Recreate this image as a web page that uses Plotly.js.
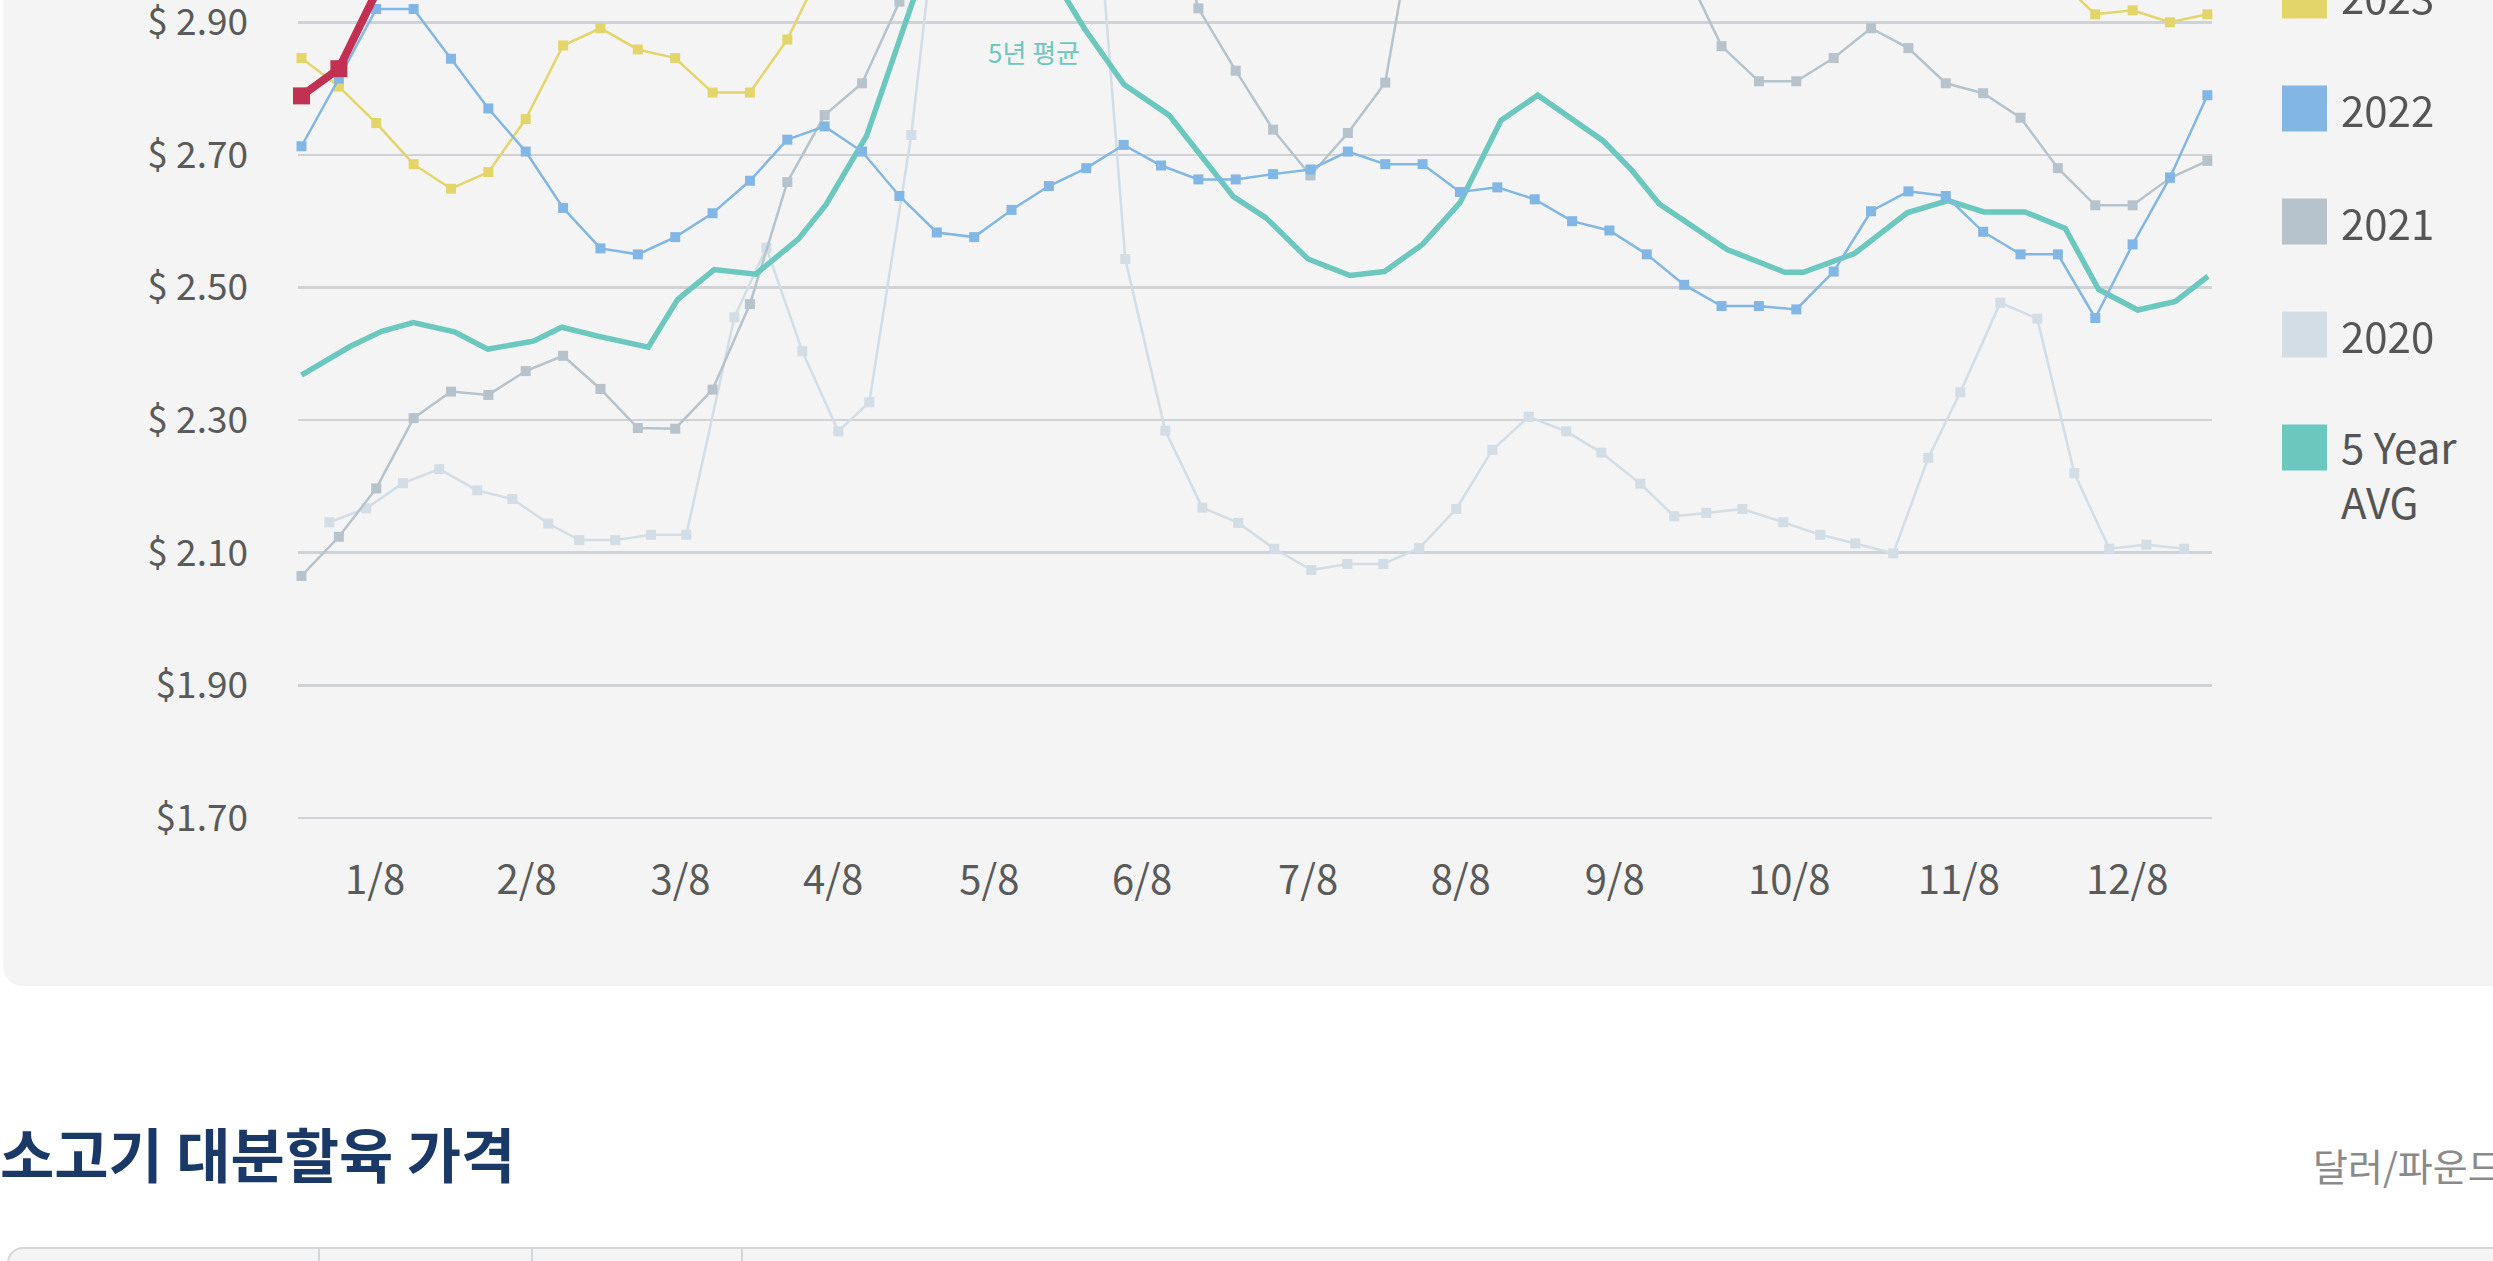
<!DOCTYPE html>
<html>
<head>
<meta charset="utf-8">
<script src="https://cdn.plot.ly/plotly-3.0.1.min.js"></script>
<style>
  html, body { margin:0; padding:0; background:#ffffff; width:2493px; height:1261px; overflow:hidden;
    font-family:"Noto Sans CJK KR", "Noto Sans", sans-serif; }
  #panel { position:absolute; left:3px; top:-100px; width:3000px; height:1086px; background:#f3f4f3; border-radius:20px; }
  #chart { position:absolute; left:0; top:0; width:2493px; height:1000px; }
  #title { position:absolute; left:0; top:1123px; font-size:59px; line-height:59px; font-weight:700; color:#1b3966;
    letter-spacing:0px; white-space:nowrap; }
  #unit { position:absolute; left:2313px; top:1146px; font-size:38px; line-height:38px; color:#8a8a8a; white-space:nowrap; }
  #table { position:absolute; left:7px; top:1247px; width:3000px; height:200px; border:2px solid #d4d7da; border-radius:16px; background:#f3f4f3; }
  .col { position:absolute; top:0; width:2px; height:200px; background:#d4d7da; }
</style>
</head>
<body>
<div id="panel"></div>
<div id="chart"></div>
<div id="title">소고기 대분할육 가격</div>
<div id="unit">달러/파운드</div>
<div id="table"><div class="col" style="left:309px"></div><div class="col" style="left:522px"></div><div class="col" style="left:732px"></div></div>
<script>
// ---- DATA ----
const weekNo = Array.from({length: 52}, (_, i) => i + 1);

const y2024 = [2.789, 2.830, 2.945];

const y2023 = [2.846, 2.803, 2.748, 2.686, 2.649, 2.674, 2.754, 2.865, 2.891, 2.859, 2.846, 2.794, 2.794, 2.874,
  2.99, 3.04, 3.09, 3.13, 3.18, 3.22, 3.24, 3.21, 3.17, 3.14, 3.12, 3.10, 3.11, 3.13, 3.15, 3.16, 3.14, 3.12,
  3.09, 3.07, 3.06, 3.08, 3.10, 3.12, 3.11, 3.09, 3.07, 3.05, 3.04, 3.03, 3.02, 3.01, 2.99,
  2.965, 2.912, 2.918, 2.900, 2.912];

const y2022 = [2.713, 2.815, 2.920, 2.920, 2.845, 2.770, 2.705, 2.620, 2.559, 2.550, 2.576, 2.612, 2.661, 2.723,
  2.743, 2.705, 2.638, 2.583, 2.576, 2.617, 2.653, 2.680, 2.715, 2.684, 2.663, 2.663, 2.671, 2.678, 2.705, 2.686,
  2.686, 2.644, 2.651, 2.633, 2.600, 2.586, 2.550, 2.504, 2.472, 2.472, 2.467, 2.524, 2.615, 2.645, 2.638, 2.584,
  2.550, 2.550, 2.454, 2.565, 2.666, 2.790];

const y2021 = [2.065, 2.124, 2.197, 2.303, 2.343, 2.338, 2.374, 2.397, 2.347, 2.288, 2.287, 2.346, 2.475, 2.659,
  2.760, 2.808, 2.931, 3.05, 3.16, 3.24, 3.28, 3.30, 3.24, 3.13, 2.921, 2.827, 2.738, 2.669, 2.733, 2.809, 3.13,
  3.19, 3.24, 3.27, 3.22, 3.14, 3.06, 2.982, 2.864, 2.811, 2.811, 2.846, 2.891, 2.861, 2.808, 2.793, 2.756, 2.680,
  2.624, 2.624, 2.665, 2.691];

const x2020 = [1.744, 2.734, 3.716, 4.687, 5.704, 6.641, 7.604, 8.434, 9.397, 10.352, 11.297, 12.582, 13.438, 14.401,
  15.364, 16.194, 17.318, 18.27, 19.24, 20.20, 21.16, 22.10, 23.044, 24.115, 25.105, 26.068, 27.031, 28.022, 28.985,
  29.948, 30.911, 31.902, 32.865, 33.839, 34.845, 35.782, 36.826, 37.735, 38.591, 39.555, 40.652, 41.642, 42.579,
  43.596, 44.532, 45.389, 46.459, 47.449, 48.439, 49.376, 50.366, 51.382];
const y2020 = [2.146, 2.167, 2.205, 2.226, 2.194, 2.181, 2.144, 2.119, 2.119, 2.127, 2.127, 2.455, 2.560, 2.404,
  2.283, 2.327, 2.730, 3.202, 3.45, 3.62, 3.48, 3.222, 2.543, 2.284, 2.168, 2.145, 2.106, 2.074, 2.083, 2.083,
  2.107, 2.166, 2.255, 2.305, 2.283, 2.251, 2.204, 2.155, 2.160, 2.166, 2.146, 2.127, 2.114, 2.099, 2.243, 2.342,
  2.477, 2.453, 2.220, 2.106, 2.112, 2.106];

const xAvg = [1.0, 2.298, 3.146, 3.992, 5.089, 5.983, 7.203, 7.963, 8.988, 10.280, 11.067, 12.046, 13.154, 14.294,
  15.035, 16.124, 18.086, 19.02, 19.95, 21.945, 23.010, 24.214, 25.937, 26.810, 27.934, 29.058, 29.978, 30.997,
  32.001, 33.098, 34.080, 35.835, 36.595, 37.334, 39.159, 40.690, 41.187, 42.552, 43.976, 45.059, 46.023, 47.120,
  48.198, 49.090, 50.136, 51.145, 52.017];
const yAvg = [2.368, 2.411, 2.434, 2.447, 2.433, 2.407, 2.419, 2.440, 2.426, 2.410, 2.482, 2.527, 2.520, 2.573,
  2.625, 2.729, 3.051, 3.11, 3.076, 2.891, 2.806, 2.760, 2.637, 2.605, 2.543, 2.518, 2.524, 2.565, 2.628, 2.752,
  2.790, 2.721, 2.677, 2.626, 2.557, 2.523, 2.523, 2.551, 2.613, 2.631, 2.614, 2.614, 2.589, 2.497, 2.466, 2.479,
  2.517];

const xTickLabels = ['1/8', '2/8', '3/8', '4/8', '5/8', '6/8', '7/8', '8/8', '9/8', '10/8', '11/8', '12/8'];
const xTickWeeks = [2.970, 7.024, 11.142, 15.225, 19.408, 23.494, 27.936, 32.022, 36.140, 40.810, 45.349, 49.855];
const yTickValues = [1.70, 1.90, 2.10, 2.30, 2.50, 2.70, 2.90];
const yTickLabels = ['$1.70', '$1.90', '$ 2.10', '$ 2.30', '$ 2.50', '$ 2.70', '$ 2.90'];

const legendNames = ['2024', '2023', '2022', '2021', '2020', '5 Year<br>AVG'];
const legendColors = ['#c33152', '#e4d56b', '#82b7e5', '#b7c3cc', '#d3dde5', '#6cc8bf'];

// ---- STYLE / LAYOUT ----
const FONT = '"Noto Sans CJK KR", "Noto Sans", sans-serif';
const ML = 298, MR = 281, MT = 0, MB = 169, W = 2493, H = 1000;
const PW = W - ML - MR, PH = H - MT - MB;
const px = x => (x - ML) / PW;
const py = y => 1 - (y - MT) / PH;

function thin(x, y, color) {
  return { x: x, y: y, type: 'scatter', mode: 'lines+markers', cliponaxis: false,
    line: { color: color, width: 2.5 }, marker: { symbol: 'square', size: 10, color: color }, hoverinfo: 'skip' };
}

const traces = [
  thin(x2020, y2020, '#d3dde5'),
  thin(weekNo, y2021, '#b7c3cc'),
  { x: xAvg, y: yAvg, type: 'scatter', mode: 'lines', line: { color: '#6cc8bf', width: 5.5 }, hoverinfo: 'skip' },
  thin(weekNo, y2023, '#e4d56b'),
  thin(weekNo, y2022, '#82b7e5'),
  { x: weekNo.slice(0, y2024.length), y: y2024, type: 'scatter', mode: 'lines+markers', cliponaxis: false,
    line: { color: '#c33152', width: 8 }, marker: { symbol: 'square', size: 17, color: '#c33152' }, hoverinfo: 'skip' }
];

const shapes = [];
const annotations = [];
legendNames.forEach((name, k) => {
  const cy = -117.6 + 113 * k;
  shapes.push({ type: 'rect', xref: 'paper', yref: 'paper', x0: px(2282), x1: px(2327), y0: py(cy - 23), y1: py(cy + 23),
    fillcolor: legendColors[k], line: { width: 0 } });
  const multi = name.indexOf('<br>') >= 0;
  annotations.push({ xref: 'paper', yref: 'paper', x: px(2339), y: py(multi ? cy + 26 : cy), xanchor: 'left', yanchor: 'middle',
    text: name, showarrow: false, align: 'left', font: { family: FONT, size: 42, color: '#555555' } });
});
annotations.push({ xref: 'x', yref: 'y', x: 20.60, y: 2.856, text: '5년 평균', showarrow: false,
  font: { family: FONT, size: 26, color: '#6cc8bf' } });

const layout = {
  width: W, height: H,
  margin: { l: ML, r: MR, t: MT, b: MB, pad: 0 },
  paper_bgcolor: 'rgba(0,0,0,0)', plot_bgcolor: 'rgba(0,0,0,0)',
  showlegend: false,
  xaxis: { range: [0.9063, 52.124], tickmode: 'array', tickvals: xTickWeeks, ticktext: xTickLabels,
    showgrid: false, zeroline: false, showline: false, ticks: '', ticklabelstandoff: 22,
    tickfont: { family: FONT, size: 40, color: '#5a5a5a' }, fixedrange: true },
  yaxis: { range: [1.6803, 2.9336], tickmode: 'array', tickvals: yTickValues, ticktext: yTickLabels,
    showgrid: true, gridcolor: '#cfd2d6', gridwidth: 2.5, zeroline: false, showline: false, ticks: '',
    ticklabelstandoff: 49, ticklabeloverflow: 'allow', tickfont: { family: FONT, size: 37, color: '#5a5a5a' }, fixedrange: true },
  shapes: shapes,
  annotations: annotations
};

Plotly.newPlot('chart', traces, layout, { staticPlot: true, displayModeBar: false });
</script>
</body>
</html>
